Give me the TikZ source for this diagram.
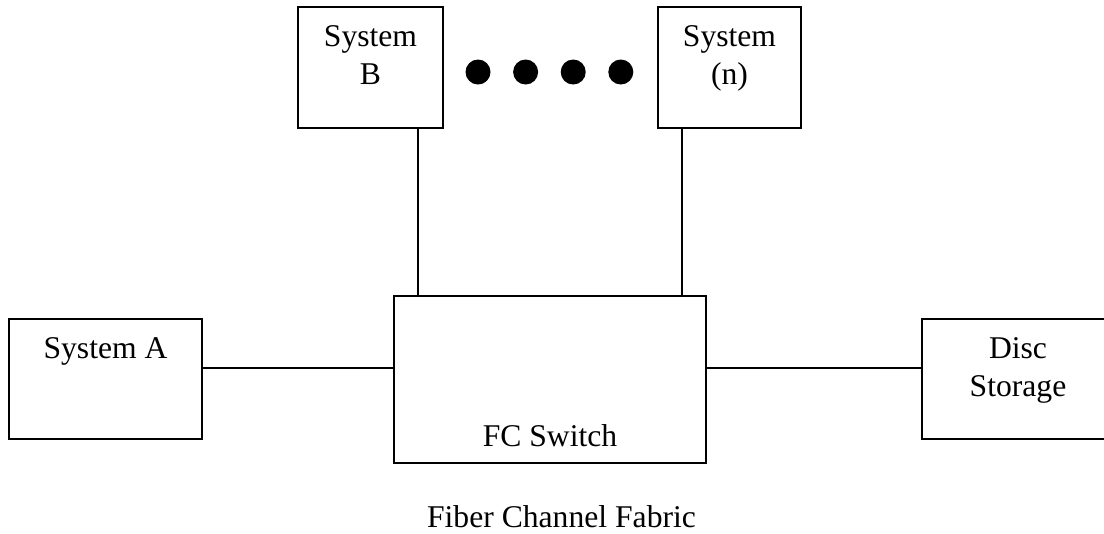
\documentclass[tikz,border=0pt]{standalone}
\usepackage{fontspec}
\setmainfont{Liberation Serif}
\usetikzlibrary{positioning}

\begin{document}
\begin{tikzpicture}[
  box/.style={draw,line width=1.4pt,inner sep=0pt,minimum height=3cm},
  txt/.style={inner sep=0pt,align=center,font=\fontsize{22.5}{27}\selectfont},
  link/.style={line width=1.1pt}
]
\useasboundingbox (0,0) rectangle (27.6,-13.325);
% systems on top
\node[box,minimum width=3.625cm,minimum height=3.025cm] (sysB) at (9.2625,-1.6875) {};
\node[box,minimum width=3.575cm,minimum height=3.025cm] (sysN) at (18.2375,-1.6875) {};
\node[txt,below=4.75mm of sysB.north] {System\\B};
\node[txt,below=4.75mm of sysN.north] {System\\(n)};
\foreach \i in {0,...,3}
  \fill (11.95+1.19*\i,-1.8) circle (0.3125);
% switch and the two side boxes
\node[box,minimum width=7.8cm,minimum height=4.175cm] (fc) at (13.75,-9.4875) {};
\node[txt,above=4.25mm of fc.south] {FC Switch};
\node[box,minimum width=4.825cm] (sysA) at (2.6375,-9.475) {};
\node[txt,below=4.75mm of sysA.north] {System A};
\node[box,minimum width=4.8cm] (disc) at (25.45,-9.475) {};
\node[txt,below=4.75mm of disc.north] {Disc\\Storage};
\node[txt,anchor=base] (fabric) at (14.0375,-13.175) {Fiber Channel Fabric};
% links
\coordinate (busB) at (10.45,0);
\coordinate (busN) at (17.05,0);
\coordinate (busH) at (0,-9.2);
\draw[link] (sysB.south -| busB) -- (fc.north -| busB);
\draw[link] (sysN.south -| busN) -- (fc.north -| busN);
\draw[link] (sysA.east |- busH) -- (fc.west |- busH);
\draw[link] (fc.east |- busH) -- (disc.west |- busH);
\end{tikzpicture}
\end{document}
